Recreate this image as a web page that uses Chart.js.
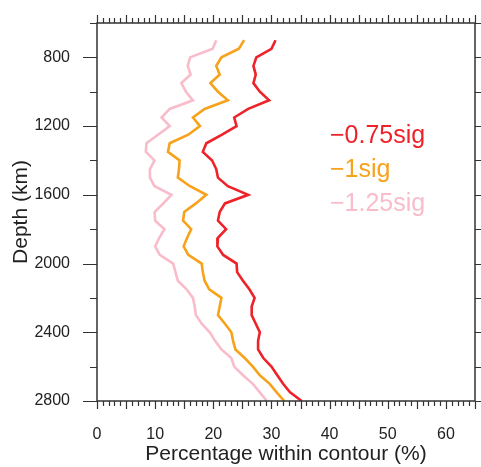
<!DOCTYPE html>
<html>
<head>
<meta charset="utf-8">
<script src="https://cdn.jsdelivr.net/npm/chart.js@4"></script>
<style>
  html, body { margin: 0; padding: 0; background: #fff; }
  #chart { display: block; }
</style>
</head>
<body>
<canvas id="chart" width="481" height="467"></canvas>
<script>
// --- DATA ---
const depths = [700, 750, 800, 850, 900, 950, 1000, 1050, 1100, 1150, 1200, 1250, 1300, 1350,
    1400, 1450, 1500, 1550, 1600, 1650, 1700, 1750, 1800, 1850, 1900, 1950, 2000, 2050, 2100,
    2150, 2200, 2250, 2300, 2350, 2400, 2450, 2500, 2550, 2600, 2650, 2700, 2750, 2800];

const sig075 = [30.7, 30.0, 27.4, 26.9, 27.3, 26.9, 28.0, 29.6, 26.0, 23.6, 24.0, 21.5, 18.8, 18.2,
    19.8, 20.5, 20.8, 22.5, 26.0, 22.0, 21.1, 20.8, 22.2, 20.8, 20.7, 21.7, 24.0, 24.1, 25.1,
    26.2, 27.1, 26.6, 26.6, 27.3, 28.0, 27.7, 27.7, 28.6, 30.0, 31.0, 32.0, 33.2, 35.2];

const sig100 = [25.3, 24.4, 21.4, 20.5, 21.1, 19.5, 20.8, 22.5, 18.5, 16.5, 17.7, 15.7, 12.5, 12.2,
    14.2, 14.1, 13.9, 16.0, 18.8, 17.0, 15.0, 14.8, 16.2, 15.5, 14.9, 15.7, 18.0, 18.2, 18.5,
    19.3, 21.4, 21.1, 20.8, 22.0, 23.1, 23.4, 23.8, 25.4, 26.8, 28.0, 29.7, 30.9, 32.2];

const sig125 = [20.5, 19.9, 16.0, 15.6, 16.1, 14.5, 15.3, 16.5, 12.5, 11.1, 12.5, 10.5, 8.5, 8.4,
    9.9, 9.1, 9.1, 9.9, 12.8, 11.4, 9.9, 10.0, 11.6, 10.7, 10.0, 10.8, 13.1, 13.5, 13.9,
    15.4, 16.5, 16.8, 17.0, 18.0, 19.4, 20.3, 21.4, 23.1, 23.6, 25.1, 26.8, 28.0, 29.2];

const seriesNames = ['\u22120.75sig', '\u22121sig', '\u22121.25sig'];
const seriesColors = ['#ee2229', '#f7a21b', '#f8bccb'];

const xTickLabels = [0, 10, 20, 30, 40, 50, 60];
const yTickLabels = [800, 1200, 1600, 2000, 2400, 2800];

const FONT = '"Liberation Sans", Arial, Helvetica, sans-serif';
const INK = '#222';

const toPoints = (vals) => vals.map((v, i) => ({ x: v, y: depths[i] }));

// Frame + tick marks on all four sides (ticks point outward)
const framePlugin = {
    id: 'frame',
    afterDatasetsDraw(chart) {
        const { ctx, chartArea: a, scales } = chart;
        const xs = scales.x, ys = scales.y;
        ctx.save();
        ctx.strokeStyle = '#333';
        ctx.lineWidth = 1.5;
        ctx.strokeRect(a.left, a.top, a.right - a.left, a.bottom - a.top);

        ctx.lineWidth = 1.2;
        ctx.beginPath();
        for (let v = xs.min; v <= xs.max; v += 1) {
            const px = Math.round(xs.getPixelForValue(v)) + 0.5;
            const len = v % 5 === 0 ? 8 : 5;
            ctx.moveTo(px, a.bottom); ctx.lineTo(px, a.bottom + len);
            ctx.moveTo(px, a.top); ctx.lineTo(px, a.top - len);
        }
        for (let v = ys.min; v <= ys.max; v += 200) {
            const py = Math.round(ys.getPixelForValue(v)) + 0.5;
            const len = v % 400 === 0 ? 14 : 7;
            ctx.moveTo(a.left, py); ctx.lineTo(a.left - len, py);
            ctx.moveTo(a.right, py); ctx.lineTo(a.right + len, py);
        }
        ctx.stroke();
        ctx.restore();
    }
};

// Coloured text legend inside the plot
const legendPlugin = {
    id: 'textLegend',
    afterDraw(chart) {
        const { ctx } = chart;
        ctx.save();
        ctx.font = '25px ' + FONT;
        ctx.textAlign = 'left';
        ctx.textBaseline = 'alphabetic';
        seriesNames.forEach((name, i) => {
            ctx.fillStyle = seriesColors[i];
            ctx.fillText(name, 330, 143 + i * 34);
        });
        ctx.restore();
    }
};

new Chart(document.getElementById('chart'), {
    type: 'scatter',
    data: {
        datasets: [sig075, sig100, sig125].map((vals, i) => ({
            label: seriesNames[i],
            data: toPoints(vals),
            showLine: true,
            borderColor: seriesColors[i],
            backgroundColor: seriesColors[i],
            borderWidth: 2.6,
            pointRadius: 0,
            tension: 0
        }))
    },
    options: {
        responsive: false,
        animation: false,
        devicePixelRatio: 1,
        layout: { padding: { top: 23, right: 6, left: 0, bottom: 0 } },
        plugins: { legend: { display: false }, tooltip: { enabled: false } },
        scales: {
            x: {
                type: 'linear',
                position: 'bottom',
                min: 0,
                max: 65,
                afterBuildTicks: s => { s.ticks = xTickLabels.map(v => ({ value: v })); },
                afterFit: s => { s.height = 66; s.paddingLeft = 0; s.paddingRight = 0; },
                grid: { display: false, drawTicks: false },
                border: { display: false },
                ticks: {
                    padding: 24, color: INK, font: { family: FONT, size: 16 }, maxRotation: 0,
                    callback: v => String(v)
                },
                title: {
                    display: true,
                    text: 'Percentage within contour (%)',
                    color: INK,
                    font: { family: FONT, size: 21 },
                    padding: { top: 0, bottom: 0 }
                }
            },
            y: {
                type: 'linear',
                reverse: true,
                min: 600,
                max: 2800,
                afterBuildTicks: s => { s.ticks = yTickLabels.map(v => ({ value: v })); },
                afterFit: s => { s.width = 97; s.paddingTop = 0; s.paddingBottom = 0; },
                grid: { display: false, drawTicks: false },
                border: { display: false },
                ticks: {
                    padding: 27, color: INK, font: { family: FONT, size: 16 },
                    callback: v => String(v)
                },
                title: {
                    display: true,
                    text: 'Depth (km)',
                    color: INK,
                    font: { family: FONT, size: 21 },
                    padding: { top: 9, bottom: 0 }
                }
            }
        }
    },
    plugins: [framePlugin, legendPlugin]
});
</script>
</body>
</html>
